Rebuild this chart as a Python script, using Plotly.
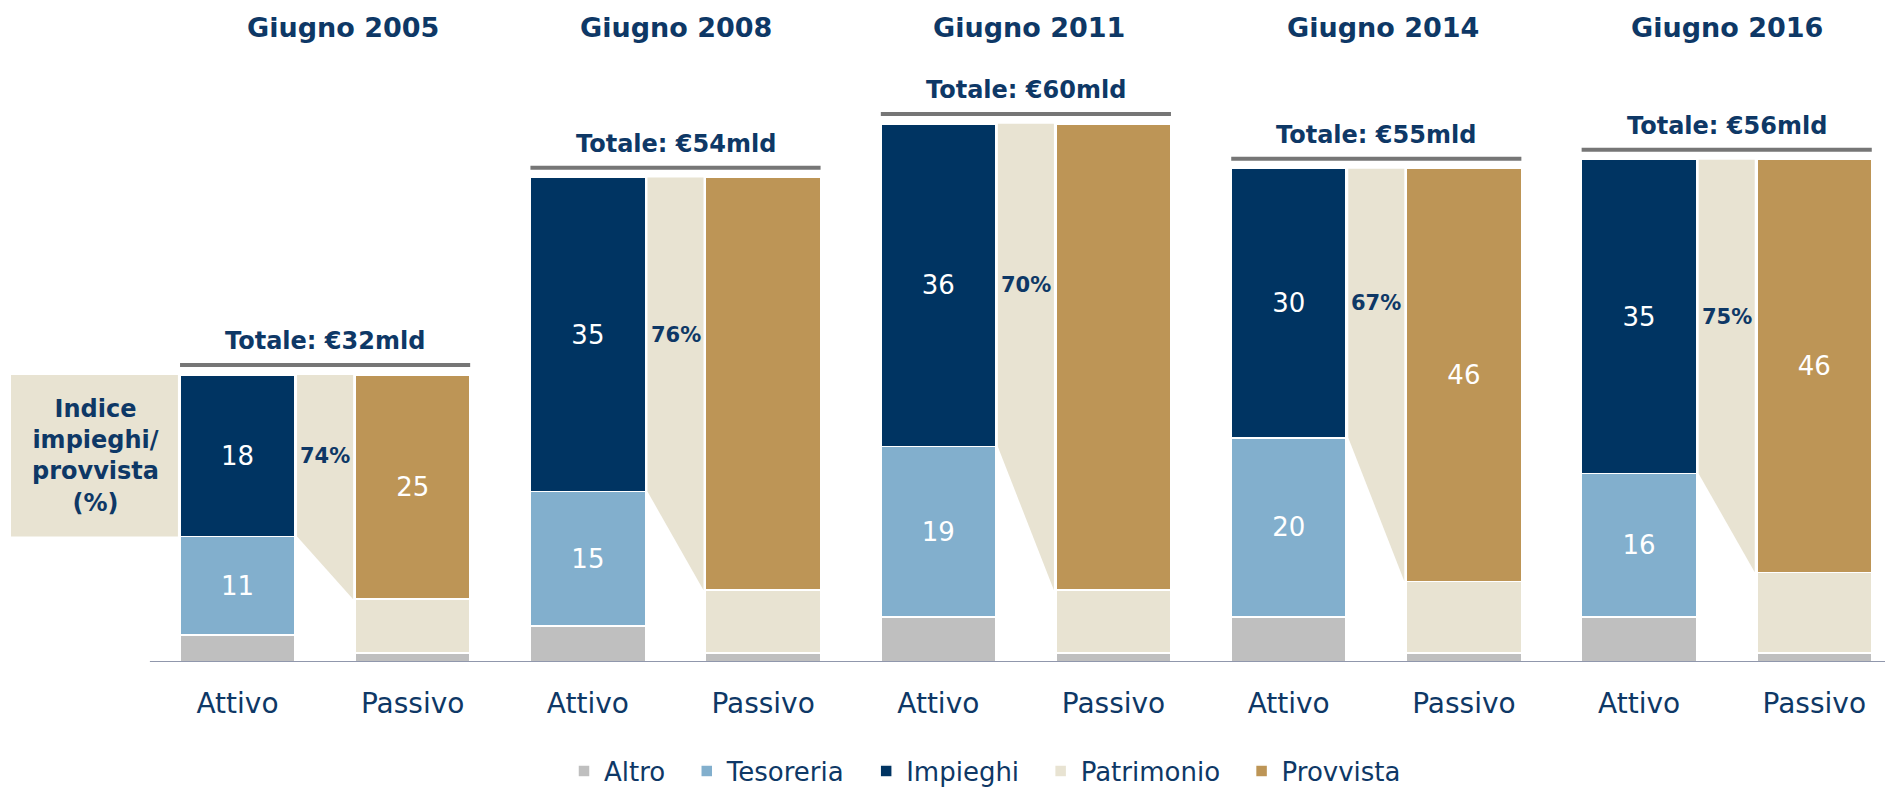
import plotly.graph_objects as go

# ---------------- data ----------------
years = ["Giugno 2005", "Giugno 2008", "Giugno 2011", "Giugno 2014", "Giugno 2016"]
totals = [32, 54, 60, 55, 56]
sides = ["Attivo", "Passivo"]
attivo_altro = [3, 4, 5, 5, 5]
tesoreria = [11, 15, 19, 20, 16]
impieghi = [18, 35, 36, 30, 35]
passivo_altro = [1, 1, 1, 1, 1]
patrimonio = [6, 7, 7, 8, 9]
provvista = [25, 46, 52, 46, 46]
provvista_labels = ["25", "", "", "46", "46"]
ratio_labels = ["74%", "76%", "70%", "67%", "75%"]
index_label = "Indice<br>impieghi/<br>provvista<br>(%)"

# ---------------- style ----------------
NAVY = "#003462"
LBLUE = "#82AFCD"
GRAY = "#BFBFBF"
BEIGE = "#E8E3D2"
GOLD = "#BD9556"
TEXTC = "#0E3866"
LINEG = "#767676"
AXISC = "#9097AC"
FONT = "DejaVu Sans"

W, H = 1885, 794
BOTTOM = 132
PLOT_H = H - BOTTOM
PX_UNIT_X = 175.2
X0_PX = 237.5
PX_UNIT_Y = 8.97
BW = 0.656

n = len(years)
xa = [2 * i for i in range(n)]
xp = [2 * i + 1 for i in range(n)]
xrange = [-X0_PX / PX_UNIT_X, (W - X0_PX) / PX_UNIT_X]
yrange = [0, PLOT_H / PX_UNIT_Y]

fig = go.Figure()
line = dict(color="white", width=1.5)
pad = "\u00a0\u00a0"

fig.add_trace(go.Bar(name="Altro" + pad, x=xa + xp, y=attivo_altro + passivo_altro,
                     marker=dict(color=GRAY, line=line), width=BW, hoverinfo="skip"))
fig.add_trace(go.Bar(name="Tesoreria" + pad, x=xa, y=tesoreria, text=[str(v) for v in tesoreria],
                     marker=dict(color=LBLUE, line=line), width=BW, hoverinfo="skip"))
fig.add_trace(go.Bar(name="Impieghi" + pad, x=xa, y=impieghi, text=[str(v) for v in impieghi],
                     marker=dict(color=NAVY, line=line), width=BW, hoverinfo="skip"))
fig.add_trace(go.Bar(name="Patrimonio" + pad, x=xp, y=patrimonio,
                     marker=dict(color=BEIGE, line=line), width=BW, hoverinfo="skip"))
fig.add_trace(go.Bar(name="Provvista", x=xp, y=provvista, text=provvista_labels,
                     marker=dict(color=GOLD, line=line), width=BW, hoverinfo="skip"))

fig.update_traces(selector=dict(type="bar"), textposition="inside", insidetextanchor="middle",
                  textangle=0, constraintext="none",
                  textfont=dict(color="white", size=26, family=FONT))

# connectors
gap = 0.012
for i in range(n):
    xl = xa[i] + BW / 2 + gap
    xr = xp[i] - BW / 2 - gap
    top_l = attivo_altro[i] + tesoreria[i] + impieghi[i]
    bot_l = attivo_altro[i] + tesoreria[i]
    top_r = passivo_altro[i] + patrimonio[i] + provvista[i]
    bot_r = passivo_altro[i] + patrimonio[i]
    fig.add_trace(go.Scatter(x=[xl, xr, xr, xl, xl], y=[top_l, top_r, bot_r, bot_l, top_l],
                             mode="lines", fill="toself", fillcolor=BEIGE,
                             line=dict(width=0, color=BEIGE), showlegend=False,
                             hoverinfo="skip"))
    fig.add_annotation(x=(xl + xr) / 2, y=bot_l + impieghi[i] / 2, text=f"<b>{ratio_labels[i]}</b>",
                       showarrow=False, font=dict(size=21, color=TEXTC, family=FONT))

# left index box
box_x0 = (11 - X0_PX) / PX_UNIT_X
fig.add_shape(type="rect", xref="x", yref="y", x0=box_x0, x1=xa[0] - BW / 2 - gap,
              y0=attivo_altro[0] + tesoreria[0], y1=totals[0], fillcolor=BEIGE,
              line=dict(width=0), layer="below")
fig.add_annotation(x=(95 - X0_PX) / PX_UNIT_X, y=attivo_altro[0] + tesoreria[0] + impieghi[0] / 2,
                   text=f"<b>{index_label}</b>", showarrow=False, align="center",
                   font=dict(size=24, color=TEXTC, family=FONT))

# totals and year titles
title_shift = [18, 0, 3, 7, 0]
for i in range(n):
    x_left = xa[i] - BW / 2
    x_right = xp[i] + BW / 2
    ly = totals[i] + 1.1
    fig.add_shape(type="line", xref="x", yref="y", x0=x_left, x1=x_right, y0=ly, y1=ly,
                  line=dict(color=LINEG, width=4))
    fig.add_annotation(x=(xa[i] + xp[i]) / 2, y=ly, yshift=24, text=f"<b>Totale: €{totals[i]}mld</b>",
                       showarrow=False, yanchor="middle",
                       font=dict(size=24, color=TEXTC, family=FONT))
    fig.add_annotation(x=(xa[i] + xp[i]) / 2, xref="x", yref="paper", y=1, yshift=-27,
                       xshift=title_shift[i], text=f"<b>{years[i]}</b>", showarrow=False,
                       yanchor="middle", font=dict(size=27, color=TEXTC, family=FONT))

# baseline
fig.add_shape(type="line", xref="x", yref="y", x0=-0.5, x1=xrange[1], y0=0, y1=0,
              line=dict(color=AXISC, width=2))

tickvals = []
ticktext = []
for i in range(n):
    tickvals += [xa[i], xp[i]]
    ticktext += sides

fig.update_layout(
    width=W, height=H, autosize=False,
    barmode="stack",
    margin=dict(l=0, r=0, t=0, b=BOTTOM, autoexpand=False),
    paper_bgcolor="white", plot_bgcolor="white",
    xaxis=dict(range=xrange, tickvals=tickvals, ticktext=ticktext, showgrid=False,
               zeroline=False, showline=False, ticks="", ticklabelstandoff=22,
               tickfont=dict(size=28, color=TEXTC, family=FONT), fixedrange=True,
               automargin=False),
    yaxis=dict(range=yrange, visible=False, fixedrange=True, automargin=False),
    legend=dict(orientation="h", traceorder="normal", x=985 / W, xanchor="center",
                y=(PLOT_H - 771) / PLOT_H, yanchor="middle",
                font=dict(size=26, color=TEXTC, family=FONT),
                itemclick=False, itemdoubleclick=False),
    showlegend=True,
)

fig.write_html("out.html", config={"displayModeBar": False},
               post_script="document.body.style.margin='0';document.body.style.overflow='hidden';")
